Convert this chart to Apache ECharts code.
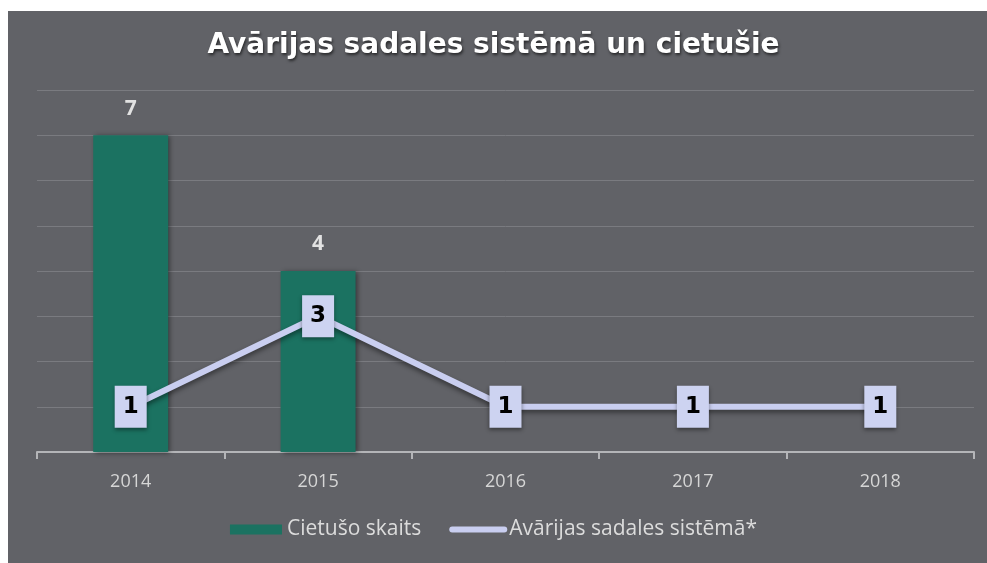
<!DOCTYPE html>
<html><head><meta charset="utf-8">
<script src="https://cdn.jsdelivr.net/npm/echarts@6/dist/echarts.min.js"></script>
<style>html,body{margin:0;padding:0;background:#fff}#c{width:987px;height:563px}</style>
</head><body><div id="c"></div>
<script>
const title = 'Avārijas sadales sistēmā un cietušie';
const categories = ['2014','2015','2016','2017','2018'];
const barName = 'Cietušo skaits';
const barValues = [7, 4, null, null, null];
const lineName = 'Avārijas sadales sistēmā*';
const lineValues = [1, 3, 1, 1, 1];

const chart = echarts.init(document.getElementById('c'));
chart.setOption({
  backgroundColor: '#ffffff',
  graphic: [{type:'rect', z:-10, shape:{x:8,y:11,width:979,height:552}, style:{fill:'#616267'}}],
  title: {
    text: title, left: 'center', top: 27,
    textStyle: {color:'#ffffff', fontSize:28, fontWeight:'bold', fontFamily:'DejaVu Sans',
      textShadowColor:'rgba(0,0,0,0.6)', textShadowBlur:3, textShadowOffsetX:1, textShadowOffsetY:2}
  },
  grid: {left:37, right:13, top:90, bottom:111},
  legend: {
    bottom: 18, left: 'center', itemWidth: 52, itemHeight: 10, itemGap: 28,
    textStyle: {color:'#dcdcdc', fontSize:21, fontFamily:'Open Sans'},
    data: [
      {name: barName, icon:'rect'},
      {name: lineName, itemStyle:{opacity:0}, lineStyle:{width:6, cap:'round', shadowBlur:0, shadowColor:'transparent'}}
    ]
  },
  xAxis: {
    type:'category', data: categories,
    axisLine:{lineStyle:{color:'#b4b5b8', width:2}},
    axisTick:{show:true, length:7, lineStyle:{color:'#b4b5b8', width:2}},
    axisLabel:{color:'#d6d6d6', fontSize:18, fontFamily:'Open Sans', margin:21}
  },
  yAxis: {
    type:'value', min:0, max:8, interval:1,
    axisLabel:{show:false}, axisLine:{show:false}, axisTick:{show:false},
    splitLine:{lineStyle:{color:'#7a7b80', width:1}}
  },
  series: [
    {
      name: barName, type:'bar', data: barValues, barWidth:'40%',
      itemStyle:{color:'#1b7261', shadowColor:'rgba(0,0,0,0.45)', shadowBlur:5, shadowOffsetX:2, shadowOffsetY:1},
      label:{show:true, position:'top', distance:16, color:'#e2e2e2', fontSize:21, fontWeight:'bold', fontFamily:'Open Sans'}
    },
    {
      name: lineName, type:'line', data: lineValues,
      symbol:'rect', symbolSize:2,
      lineStyle:{color:'#c9cef0', width:6, shadowColor:'rgba(0,0,0,0.45)', shadowBlur:5, shadowOffsetY:3},
      itemStyle:{color:'#c9cef0'},
      label:{show:true, position:'inside', color:'#000', fontSize:23, fontWeight:'bold', fontFamily:'DejaVu Sans',
        backgroundColor:'#cdd3f1', padding:[9,8,9,8], lineHeight:24,
        shadowColor:'rgba(0,0,0,0.4)', shadowBlur:4, shadowOffsetY:2}
    }
  ]
});
</script></body></html>
